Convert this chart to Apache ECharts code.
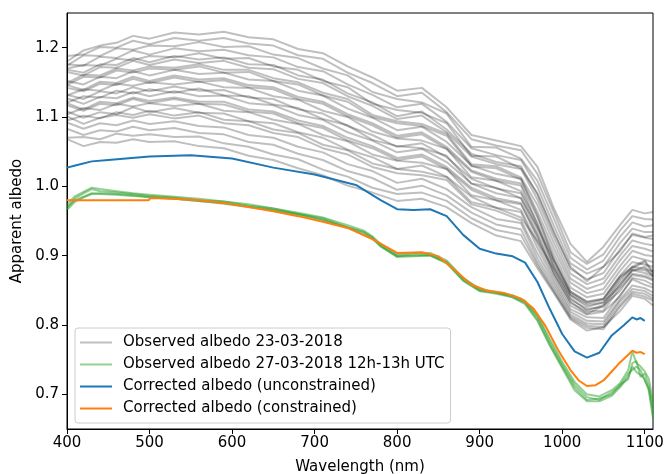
<!DOCTYPE html>
<html>
<head>
<meta charset="utf-8">
<script src="https://cdn.jsdelivr.net/npm/echarts@6/dist/echarts.min.js"></script>
<style>
  html, body { margin:0; padding:0; background:#fff; }
  #chart { width:665px; height:474px; }
</style>
</head>
<body>
<div id="chart"></div>
<script>
// ---- data ----
const wlGray = [400,420,440,460,480,500,530,560,590,620,650,680,710,740,770,800,830,860,890,920,950,970,990,1010,1030,1050,1070,1085,1100,1110];
const grayObserved = [
  [1.068,1.058,1.064,1.063,1.068,1.064,1.065,1.058,1.055,1.044,1.038,1.026,1.016,1.001,0.991,0.979,0.982,0.970,0.947,0.929,0.921,0.882,0.846,0.808,0.792,0.797,0.820,0.842,0.838,0.828],
  [1.070,1.071,1.068,1.076,1.073,1.075,1.071,1.072,1.062,1.057,1.046,1.039,1.024,1.014,0.998,0.989,0.991,0.979,0.954,0.937,0.930,0.886,0.848,0.810,0.796,0.794,0.826,0.845,0.841,0.835],
  [1.083,1.074,1.081,1.079,1.086,1.081,1.084,1.077,1.075,1.064,1.060,1.047,1.038,1.022,1.012,0.995,1.001,0.987,0.962,0.945,0.938,0.890,0.851,0.812,0.799,0.797,0.829,0.848,0.845,0.838],
  [1.092,1.083,1.091,1.088,1.095,1.090,1.094,1.087,1.085,1.074,1.070,1.057,1.049,1.032,1.022,1.005,1.011,0.996,0.970,0.953,0.947,0.896,0.856,0.815,0.802,0.801,0.834,0.852,0.849,0.842],
  [1.101,1.090,1.099,1.103,1.099,1.104,1.098,1.102,1.091,1.088,1.077,1.071,1.055,1.046,1.028,1.019,1.016,1.009,0.974,0.965,0.951,0.903,0.861,0.819,0.806,0.805,0.837,0.857,0.853,0.847],
  [1.095,1.102,1.098,1.107,1.103,1.109,1.102,1.107,1.096,1.094,1.082,1.077,1.060,1.052,1.033,1.025,1.021,1.013,0.977,0.969,0.955,0.921,0.880,0.839,0.821,0.829,0.861,0.880,0.879,0.872],
  [1.108,1.099,1.107,1.104,1.114,1.107,1.113,1.106,1.105,1.094,1.091,1.078,1.070,1.053,1.042,1.025,1.030,1.014,0.985,0.969,0.963,0.911,0.866,0.823,0.811,0.810,0.843,0.866,0.858,0.854],
  [1.104,1.113,1.110,1.119,1.115,1.120,1.116,1.119,1.109,1.107,1.096,1.090,1.074,1.065,1.046,1.037,1.034,1.025,0.987,0.980,0.966,0.918,0.871,0.828,0.815,0.819,0.841,0.868,0.864,0.858],
  [1.117,1.109,1.119,1.117,1.126,1.120,1.126,1.119,1.118,1.108,1.105,1.091,1.084,1.066,1.055,1.038,1.043,1.025,0.995,0.980,0.974,0.929,0.874,0.834,0.816,0.828,0.849,0.874,0.871,0.866],
  [1.120,1.111,1.122,1.120,1.128,1.123,1.128,1.122,1.122,1.111,1.108,1.095,1.087,1.070,1.058,1.041,1.046,1.028,0.998,0.983,0.976,0.925,0.876,0.832,0.819,0.821,0.853,0.872,0.869,0.864],
  [1.127,1.119,1.129,1.127,1.136,1.130,1.137,1.130,1.131,1.120,1.117,1.103,1.096,1.078,1.066,1.049,1.054,1.035,1.004,0.990,0.983,0.932,0.882,0.837,0.823,0.826,0.858,0.879,0.875,0.870],
  [1.121,1.130,1.128,1.138,1.134,1.140,1.135,1.141,1.131,1.130,1.118,1.113,1.097,1.088,1.067,1.058,1.055,1.044,1.004,0.998,0.983,0.941,0.892,0.846,0.831,0.836,0.868,0.882,0.891,0.874],
  [1.132,1.126,1.137,1.134,1.143,1.137,1.144,1.138,1.139,1.128,1.126,1.111,1.105,1.087,1.074,1.057,1.062,1.042,1.011,0.997,0.990,0.939,0.888,0.843,0.829,0.832,0.865,0.884,0.881,0.877],
  [1.131,1.140,1.138,1.148,1.145,1.150,1.147,1.151,1.143,1.142,1.130,1.125,1.109,1.100,1.079,1.069,1.066,1.054,1.013,1.008,0.993,0.947,0.895,0.848,0.834,0.838,0.871,0.891,0.887,0.884],
  [1.142,1.137,1.148,1.146,1.155,1.149,1.157,1.151,1.153,1.143,1.140,1.126,1.119,1.101,1.088,1.070,1.075,1.054,1.021,1.008,1.001,0.944,0.884,0.843,0.826,0.833,0.856,0.878,0.884,0.870],
  [1.146,1.139,1.151,1.149,1.158,1.152,1.160,1.154,1.156,1.146,1.143,1.129,1.122,1.104,1.091,1.073,1.078,1.057,1.023,1.011,1.004,0.955,0.902,0.854,0.840,0.845,0.878,0.899,0.894,0.891],
  [1.152,1.147,1.158,1.156,1.166,1.160,1.168,1.162,1.164,1.154,1.152,1.138,1.131,1.112,1.099,1.081,1.086,1.064,1.030,1.018,1.011,0.963,0.910,0.861,0.846,0.852,0.885,0.907,0.901,0.899],
  [1.146,1.158,1.157,1.167,1.164,1.170,1.168,1.173,1.164,1.165,1.152,1.147,1.131,1.122,1.100,1.091,1.087,1.073,1.029,1.026,1.010,0.958,0.894,0.848,0.833,0.838,0.870,0.884,0.893,0.877],
  [1.149,1.161,1.160,1.170,1.167,1.173,1.171,1.176,1.168,1.168,1.156,1.150,1.135,1.126,1.103,1.094,1.090,1.076,1.032,1.029,1.013,0.973,0.918,0.867,0.852,0.860,0.893,0.914,0.910,0.906],
  [1.165,1.160,1.172,1.171,1.181,1.175,1.183,1.178,1.181,1.171,1.169,1.155,1.149,1.130,1.116,1.097,1.102,1.078,1.043,1.032,1.025,0.981,0.926,0.874,0.859,0.867,0.900,0.922,0.917,0.915],
  [1.168,1.164,1.176,1.175,1.185,1.179,1.188,1.183,1.186,1.176,1.175,1.160,1.154,1.134,1.121,1.101,1.108,1.082,1.047,1.035,1.029,0.988,0.932,0.884,0.863,0.884,0.906,0.932,0.927,0.929],
  [1.170,1.175,1.174,1.184,1.182,1.188,1.186,1.192,1.184,1.185,1.173,1.168,1.152,1.143,1.119,1.110,1.106,1.091,1.044,1.043,1.026,0.990,0.935,0.881,0.866,0.875,0.909,0.930,0.926,0.924],
  [1.176,1.174,1.187,1.185,1.196,1.190,1.199,1.195,1.197,1.189,1.186,1.172,1.166,1.147,1.132,1.114,1.119,1.093,1.055,1.045,1.038,0.999,0.943,0.889,0.874,0.884,0.918,0.939,0.934,0.934],
  [1.174,1.189,1.188,1.199,1.197,1.203,1.202,1.208,1.201,1.202,1.190,1.185,1.170,1.160,1.136,1.126,1.121,1.105,1.057,1.056,1.040,1.008,0.953,0.897,0.880,0.893,0.927,0.948,0.942,0.944],
  [1.188,1.190,1.201,1.200,1.210,1.205,1.214,1.210,1.214,1.206,1.203,1.189,1.184,1.164,1.149,1.130,1.135,1.107,1.068,1.059,1.052,1.018,0.962,0.905,0.888,0.902,0.936,0.957,0.953,0.952],
  [1.180,1.196,1.203,1.207,1.217,1.213,1.222,1.219,1.223,1.215,1.212,1.198,1.192,1.173,1.157,1.138,1.142,1.114,1.074,1.066,1.058,1.028,0.968,0.917,0.891,0.913,0.944,0.966,0.961,0.963]
];

const wlGreen = [400,410,420,430,440,460,480,500,530,560,590,620,650,680,710,740,760,770,780,800,820,840,860,880,900,920,940,955,970,985,1000,1015,1030,1045,1060,1070,1080,1085,1090,1095,1100,1105,1110];
const greenObserved = [
  [0.968,0.983,0.990,0.996,0.993,0.991,0.989,0.986,0.984,0.980,0.978,0.972,0.968,0.960,0.954,0.941,0.934,0.926,0.913,0.899,0.902,0.901,0.890,0.864,0.849,0.847,0.840,0.830,0.806,0.770,0.738,0.706,0.690,0.690,0.698,0.710,0.725,0.740,0.732,0.728,0.722,0.705,0.665],
  [0.974,0.986,0.992,0.998,0.996,0.993,0.990,0.988,0.985,0.982,0.978,0.974,0.968,0.962,0.955,0.944,0.936,0.928,0.917,0.902,0.904,0.904,0.893,0.868,0.852,0.848,0.843,0.835,0.814,0.780,0.747,0.718,0.700,0.697,0.706,0.716,0.735,0.762,0.745,0.740,0.733,0.722,0.690],
  [0.971,0.980,0.985,0.990,0.989,0.988,0.986,0.985,0.982,0.979,0.976,0.971,0.966,0.960,0.952,0.940,0.930,0.924,0.914,0.898,0.899,0.900,0.889,0.864,0.849,0.845,0.840,0.832,0.808,0.772,0.740,0.710,0.692,0.694,0.700,0.714,0.722,0.745,0.748,0.725,0.730,0.712,0.680],
  [0.966,0.978,0.984,0.989,0.990,0.989,0.987,0.984,0.982,0.979,0.975,0.970,0.965,0.959,0.951,0.941,0.933,0.926,0.915,0.900,0.900,0.901,0.891,0.867,0.851,0.846,0.842,0.833,0.812,0.776,0.743,0.714,0.696,0.692,0.703,0.712,0.730,0.735,0.740,0.735,0.720,0.708,0.672]
];

const wlBlue = [400,410,430,450,500,550,600,650,700,750,780,800,820,840,860,880,900,920,940,955,970,985,1000,1015,1030,1045,1060,1075,1085,1090,1095,1100];
const correctedUnconstrained = [1.027,1.030,1.036,1.038,1.043,1.045,1.040,1.027,1.017,1.002,0.980,0.967,0.966,0.967,0.957,0.930,0.910,0.903,0.899,0.890,0.862,0.823,0.787,0.762,0.753,0.760,0.785,0.800,0.811,0.808,0.810,0.806];

const wlOrange = [400,499,501,530,560,590,620,650,680,710,740,770,800,830,850,870,890,910,930,950,965,980,995,1010,1020,1030,1040,1050,1060,1070,1080,1085,1090,1095,1100];
const correctedConstrained = [0.980,0.980,0.983,0.982,0.980,0.976,0.970,0.964,0.957,0.949,0.940,0.924,0.904,0.905,0.899,0.879,0.858,0.849,0.846,0.838,0.824,0.798,0.764,0.735,0.720,0.712,0.713,0.720,0.733,0.746,0.757,0.763,0.760,0.761,0.758];

const xTicks = [400,500,600,700,800,900,1000,1100];
const yTicks = [0.7,0.8,0.9,1.0,1.1,1.2];

const names = [
  'Observed albedo 23-03-2018',
  'Observed albedo 27-03-2018 12h-13h UTC',
  'Corrected albedo (unconstrained)',
  'Corrected albedo (constrained)'
];

// ---- chart ----
const FONT = 'DejaVu Sans';
const pairs = (xs, ys) => xs.map((x, i) => [x, ys[i]]);
const line = (name, data, color, width, z) => ({
  name, type:'line', data, symbol:'none', z, silent:true, animation:false,
  lineStyle:{ color, width }, itemStyle:{ color }
});

const series = [];
grayObserved.forEach(v => series.push(line(names[0], pairs(wlGray, v), 'rgba(0,0,0,0.25)', 2, 1)));
greenObserved.forEach(v => series.push(line(names[1], pairs(wlGreen, v), 'rgba(44,160,44,0.5)', 2, 2)));
series.push(line(names[2], pairs(wlBlue, correctedUnconstrained), '#1f77b4', 2, 3));
series.push(line(names[3], pairs(wlOrange, correctedConstrained), '#ff7f0e', 2, 4));

const chart = echarts.init(document.getElementById('chart'), null, { renderer:'canvas' });
chart.setOption({
  animation:false,
  textStyle:{ fontFamily:FONT },
  grid:{ left:67, right:12, top:13, bottom:45, containLabel:false, outerBoundsMode:'none',
    show:true, borderColor:'#000', borderWidth:1, backgroundColor:'transparent' },
  legend:{
    orient:'vertical', left:75, top:328, data:names,
    icon:'rect', itemWidth:32, itemHeight:2, itemGap:7,
    padding:[7, 6, 7, 5],
    backgroundColor:'rgba(255,255,255,0.85)', borderColor:'#cccccc', borderWidth:1, borderRadius:3,
    textStyle:{ fontFamily:FONT, fontSize:15, color:'#000', lineHeight:15, padding:[0,0,0,6] },
    selectedMode:false
  },
  xAxis:{
    type:'value', min:400, max:1110,
    name:'Wavelength (nm)', nameLocation:'middle', nameGap:31,
    nameTextStyle:{ fontFamily:FONT, fontSize:15, color:'#000' },
    axisLine:{ show:true, lineStyle:{ color:'#000', width:1 } },
    axisTick:{ show:true, length:5, customValues:xTicks, lineStyle:{ color:'#000' } },
    axisLabel:{ customValues:xTicks, fontFamily:FONT, fontSize:15, color:'#000', margin:7,
      formatter:v => String(v) },
    splitLine:{ show:false }
  },
  yAxis:{
    type:'value', min:0.65, max:1.25,
    name:'Apparent albedo', nameLocation:'middle', nameGap:34, nameRotate:90,
    nameTextStyle:{ fontFamily:FONT, fontSize:15, color:'#000' },
    axisLine:{ show:true, lineStyle:{ color:'#000', width:1 } },
    axisTick:{ show:true, length:5, customValues:yTicks, lineStyle:{ color:'#000' } },
    axisLabel:{ customValues:yTicks, fontFamily:FONT, fontSize:15, color:'#000', margin:8,
      formatter:v => Number(v).toFixed(1) },
    splitLine:{ show:false }
  },
  series
});
</script>
</body>
</html>
